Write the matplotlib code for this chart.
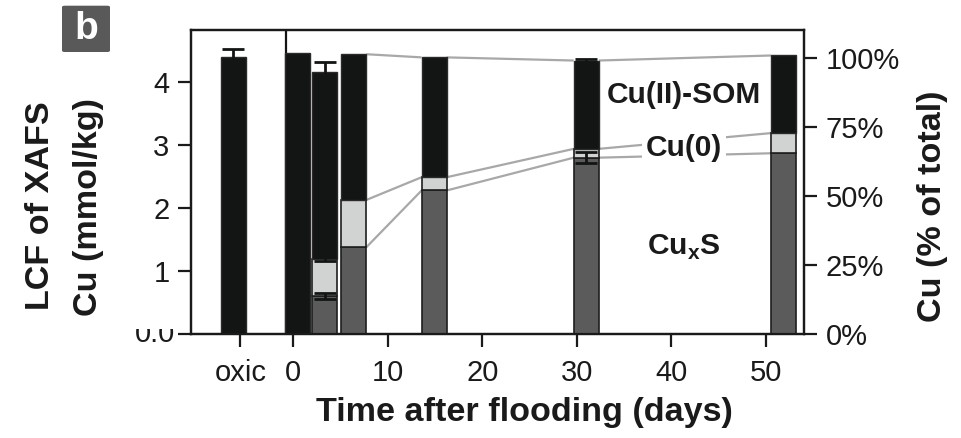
import numpy as np
import matplotlib
matplotlib.use("Agg")
import matplotlib.pyplot as plt
from matplotlib.patches import FancyBboxPatch
from matplotlib.transforms import Bbox

plt.rcParams['font.family'] = ['Liberation Sans', 'DejaVu Sans']
plt.rcParams['mathtext.fontset'] = 'custom'
plt.rcParams['mathtext.rm'] = 'Liberation Sans'
plt.rcParams['mathtext.bf'] = 'Liberation Sans:bold'

# ---- data ----
sample_days = [-6.35, 0.45, 3.3, 6.4, 14.9, 31.0, 51.9]
cuxs = [0.0, 0.0, 0.61, 1.38, 2.28, 2.80, 2.87]
cu0 = [0.0, 0.0, 0.58, 0.75, 0.21, 0.14, 0.32]
cu2som = [4.39, 4.46, 2.97, 2.31, 1.90, 1.40, 1.23]
err_total = [0.13, 0.0, 0.15, 0.0, 0.0, 0.02, 0.0]
err_cu0top = [0.0, 0.0, 0.03, 0.0, 0.0, 0.0, 0.0]
err_cuxs = [0.0, 0.0, 0.05, 0.0, 0.0, 0.085, 0.0]
xtick_pos = [-5.6, 0, 10, 20, 30, 40, 50]
xtick_labels = ['oxic', '0', '10', '20', '30', '40', '50']
left_ticks = [1, 2, 3, 4]
right_ticks = [0, 25, 50, 75, 100]
right_labels = ['0%', '25%', '50%', '75%', '100%']
line_from = 3  # connecting lines start at this bar

W, H = 961, 438
BLACK = '#131514'
DGRAY = '#5b5b5b'
LGRAY = '#d1d3d2'
TXT = '#1a1a1a'

fig = plt.figure(figsize=(W / 100, H / 100), dpi=100)
ax = fig.add_axes([191 / W, (H - 334.3) / H, (804 - 191) / W, (334.3 - 30) / H])

x = np.array(sample_days)
a = np.array(cuxs)
b = np.array(cu0)
c = np.array(cu2som)
bw = 2.65

ax.bar(x, a, width=bw, color=DGRAY, edgecolor='#1e1e1e', linewidth=1.2, zorder=3)
ax.bar(x, b, bottom=a, width=bw, color=LGRAY, edgecolor='#1e1e1e', linewidth=1.2, zorder=3)
ax.bar(x, c, bottom=a + b, width=bw, color=BLACK, edgecolor='#2a2a2a', linewidth=1.0, zorder=3)

# error bars
tot = a + b + c
for vals, errs in [(tot, err_total), (a + b, err_cu0top), (a, err_cuxs)]:
    e = np.array(errs)
    m = e > 0
    ax.errorbar(x[m], vals[m], yerr=e[m], fmt='none', ecolor=BLACK,
                elinewidth=2, capsize=8, capthick=2, zorder=4)

# connecting gray lines between bars
for lev in [a, a + b, tot]:
    for i in range(line_from, len(x) - 1):
        ax.plot([x[i] + bw / 2, x[i + 1] - bw / 2], [lev[i], lev[i + 1]],
                color='#a8a8a8', lw=1.6, zorder=2, solid_capstyle='butt')

# separator line
ax.axvline(-0.77, color=BLACK, lw=1.6, zorder=1)

ax.set_xlim(-10.83, 54.04)
ax.set_ylim(0, 4.824)
ax.set_xticks(xtick_pos)
ax.set_xticklabels(xtick_labels)
ax.set_yticks([0] + left_ticks)
ax.set_yticklabels([''] + [str(t) for t in left_ticks])
for s in ax.spines.values():
    s.set_linewidth(1.6)
    s.set_color(TXT)
ax.tick_params(axis='both', length=9.5, width=1.6, labelsize=21, colors=TXT, pad=6)
ax.tick_params(axis='x', pad=8)

ax2 = ax.twinx()
ax2.set_ylim(0, 110)
ax2.set_yticks(right_ticks)
ax2.set_yticklabels(right_labels)
ax2.tick_params(axis='y', length=9.5, width=1.6, labelsize=21, colors=TXT, pad=6)
for s in ax2.spines.values():
    s.set_linewidth(1.6)
    s.set_color(TXT)

# in-plot labels
ax.text(41.35, 3.79, 'Cu(II)-SOM', fontsize=21.5, fontweight='bold', ha='center',
        va='center', color=TXT, zorder=5)
ax.text(41.35, 2.95, 'Cu(0)', fontsize=21.5, fontweight='bold', ha='center',
        va='center', color=TXT, zorder=5,
        bbox=dict(boxstyle='square,pad=0.12', fc='white', ec='none'))
ax.text(41.35, 1.37, r'Cu$_\mathbf{x}$S', fontsize=21.5, fontweight='bold', ha='center',
        va='center', color=TXT, zorder=5)

# axis labels
fig.text(524.6 / W, 1 - 413 / H, 'Time after flooding (days)', fontsize=24.6,
         fontweight='bold', ha='center', va='center', color=TXT)
fig.text(41 / W, 1 - 206 / H, 'LCF of XAFS', fontsize=24.6, fontweight='bold',
         rotation=90, ha='center', va='center', color=TXT)
fig.text(89 / W, 1 - 207 / H, 'Cu (mmol/kg)', fontsize=24.6, fontweight='bold',
         rotation=90, ha='center', va='center', color=TXT)
fig.text(932 / W, 1 - 206.5 / H, 'Cu (% of total)', fontsize=24.6, fontweight='bold',
         rotation=90, ha='center', va='center', color=TXT)

# clipped "0.0" tick label
t0 = fig.text(175 / W, 1 - 341.7 / H, '0.0', fontsize=21, ha='right', va='baseline', color=TXT)
t0.set_clip_box(Bbox.from_extents(100, H - 346, 200, H - 329))
t0.set_clip_on(True)

# panel label "b"
box = FancyBboxPatch((62 / W, 1 - 52 / H), 48 / W, 46.3 / H,
                     boxstyle='round,pad=0,rounding_size=0.003',
                     transform=fig.transFigure, fc='#595959', ec='none')
fig.patches.append(box)
fig.text(86 / W, 1 - 29 / H, 'b', fontsize=28, fontweight='bold', color='white',
         ha='center', va='center')

fig.savefig('out.png', dpi=100)
